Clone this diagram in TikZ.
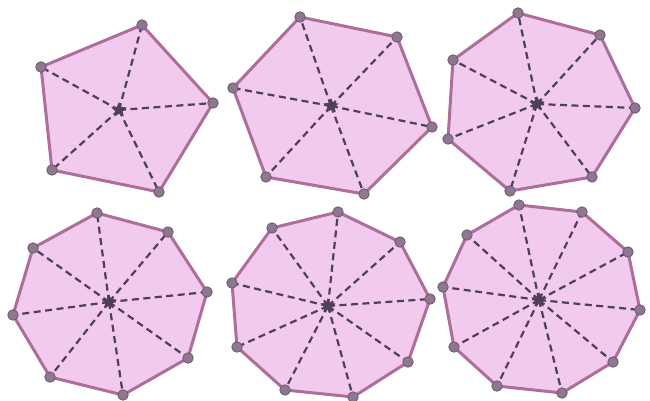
\documentclass[tikz,border=0pt]{standalone}
\usetikzlibrary{shapes.geometric}
\definecolor{polyfill}{HTML}{F2CAEE}
\definecolor{polyedge}{HTML}{AE6E9A}
\definecolor{dotfill}{HTML}{8E7890}
\definecolor{dotedge}{HTML}{6E5870}
\definecolor{dashcol}{HTML}{4E4058}
\tikzset{
 polyshape/.style={fill=polyfill, draw=polyedge, line width=3pt, line join=round},
 spoke/.style={draw=dashcol, line width=2.2pt, dash pattern=on 7pt off 4.5pt},
 vdot/.style={circle, fill=dotfill, draw=dotedge, line width=0.8pt, inner sep=0pt, minimum size=10.5pt},
 cstar/.style={star, star points=5, star point ratio=2.1, fill=dashcol, inner sep=0pt, minimum size=16pt},
}
\begin{document}
\begin{tikzpicture}[x=1pt,y=-1pt]
\useasboundingbox (0,0) rectangle (650,401);
% pentagon
\coordinate (Ac) at (119,110);
\foreach [count=\i] \x/\y in {142/25,213/103,159/192,52/170,41/67} \coordinate (Av\i) at (\x,\y);
\draw[polyshape] (Av1) \foreach \i in {2,...,5}{ -- (Av\i)} -- cycle;
\foreach \i in {1,...,5} \draw[spoke] (Ac) -- (Av\i);
\foreach \i in {1,...,5} \node[vdot] (Ad\i) at (Av\i) {};
\node[cstar] (As) at (Ac) {};
% hexagon
\coordinate (Bc) at (331,106);
\foreach [count=\i] \x/\y in {300/17,397/37,432/127,364/194,266/177,233/88} \coordinate (Bv\i) at (\x,\y);
\draw[polyshape] (Bv1) \foreach \i in {2,...,6}{ -- (Bv\i)} -- cycle;
\foreach \i in {1,...,6} \draw[spoke] (Bc) -- (Bv\i);
\foreach \i in {1,...,6} \node[vdot] (Bd\i) at (Bv\i) {};
\node[cstar] (Bs) at (Bc) {};
% heptagon
\coordinate (Cc) at (537,104);
\foreach [count=\i] \x/\y in {518/13,600/35,635/108,592/177,510/191,448/139,453/60} \coordinate (Cv\i) at (\x,\y);
\draw[polyshape] (Cv1) \foreach \i in {2,...,7}{ -- (Cv\i)} -- cycle;
\foreach \i in {1,...,7} \draw[spoke] (Cc) -- (Cv\i);
\foreach \i in {1,...,7} \node[vdot] (Cd\i) at (Cv\i) {};
\node[cstar] (Cs) at (Cc) {};
% octagon
\coordinate (Dc) at (109,302);
\foreach [count=\i] \x/\y in {97/213,168/232,207/292,188/358,123/395,50/377,13/315,33/248} \coordinate (Dv\i) at (\x,\y);
\draw[polyshape] (Dv1) \foreach \i in {2,...,8}{ -- (Dv\i)} -- cycle;
\foreach \i in {1,...,8} \draw[spoke] (Dc) -- (Dv\i);
\foreach \i in {1,...,8} \node[vdot] (Dd\i) at (Dv\i) {};
\node[cstar] (Ds) at (Dc) {};
% nonagon
\coordinate (Ec) at (328,306);
\foreach [count=\i] \x/\y in {338/212,400/242,430/299,408/362,353/397,285/390,237/347,232/283,272/228} \coordinate (Ev\i) at (\x,\y);
\draw[polyshape] (Ev1) \foreach \i in {2,...,9}{ -- (Ev\i)} -- cycle;
\foreach \i in {1,...,9} \draw[spoke] (Ec) -- (Ev\i);
\foreach \i in {1,...,9} \node[vdot] (Ed\i) at (Ev\i) {};
\node[cstar] (Es) at (Ec) {};
% decagon
\coordinate (Fc) at (539,300);
\foreach [count=\i] \x/\y in {519/205,582/212,628/252,640/310,613/362,562/393,497/386,454/347,443/287,467/235} \coordinate (Fv\i) at (\x,\y);
\draw[polyshape] (Fv1) \foreach \i in {2,...,10}{ -- (Fv\i)} -- cycle;
\foreach \i in {1,...,10} \draw[spoke] (Fc) -- (Fv\i);
\foreach \i in {1,...,10} \node[vdot] (Fd\i) at (Fv\i) {};
\node[cstar] (Fs) at (Fc) {};
\end{tikzpicture}
\end{document}
